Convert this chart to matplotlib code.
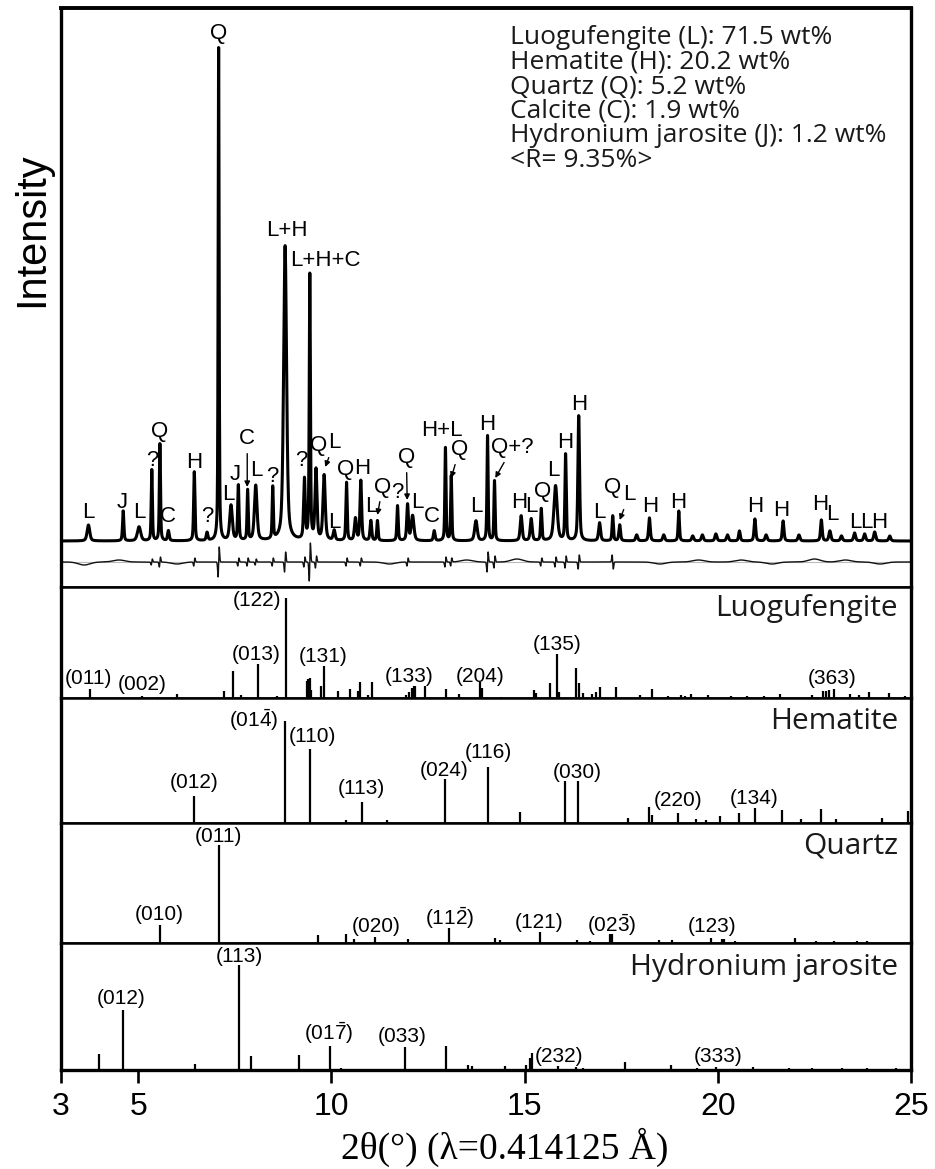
import numpy as np
import matplotlib

matplotlib.use("Agg")
import matplotlib.pyplot as plt

# ---- observed pattern (top panel): peak positions (2theta), heights above background, FWHM
OBS_POS = [3.71, 4.61, 5.02, 5.35, 5.56, 5.78, 6.45, 6.78, 7.08, 7.40, 7.59, 7.83, 8.04, 8.48,
           8.80, 9.30, 9.44, 9.60, 9.81, 10.07, 10.39, 10.62, 10.76, 11.02, 11.19, 11.71, 11.97,
           12.10, 12.66, 12.95, 13.10, 13.74, 14.04, 14.22, 14.91, 15.17, 15.43, 15.80, 16.06,
           16.40, 16.94, 17.28, 17.46, 17.90, 18.23, 18.60, 18.99, 19.35, 19.60, 19.95, 20.25,
           20.56, 20.96, 21.25, 21.69, 22.10, 22.68, 22.90, 23.20, 23.54, 23.80, 24.06, 24.45]
OBS_HEIGHT = [16, 30, 14, 71, 97, 10, 69, 8, 493, 35, 55, 50, 55, 52,
              295, 60, 265, 70, 65, 10, 58, 22, 60, 20, 20, 35, 36,
              25, 10, 93, 65, 20, 105, 60, 25, 22, 32, 55, 86,
              125, 18, 25, 16, 6, 23, 6, 30, 5, 6, 7, 6,
              10, 22, 6, 20, 6, 21, 10, 5, 8, 7, 9, 5]
OBS_FWHM = [0.08, 0.04, 0.10, 0.035, 0.035, 0.05, 0.04, 0.05, 0.03, 0.08, 0.04, 0.035, 0.08, 0.035,
            0.09, 0.05, 0.035, 0.06, 0.07, 0.06, 0.04, 0.06, 0.05, 0.05, 0.04, 0.04, 0.05,
            0.08, 0.05, 0.035, 0.035, 0.08, 0.035, 0.035, 0.06, 0.06, 0.04, 0.10, 0.04,
            0.05, 0.06, 0.04, 0.05, 0.06, 0.05, 0.06, 0.04, 0.06, 0.06, 0.06, 0.06,
            0.05, 0.05, 0.06, 0.05, 0.06, 0.05, 0.06, 0.06, 0.06, 0.06, 0.06, 0.06]
OBS_BACKGROUND = 46

# ---- difference curve: sharp misfit spikes and broad waves
DIFF_LEVEL = 25
DIFF_SPIKE_POS = [5.35, 5.56, 6.45, 7.08, 7.59, 7.83, 8.04, 8.48, 8.80, 9.30, 9.44, 9.60,
                  10.39, 10.76, 11.97, 12.95, 13.10, 14.04, 14.22, 15.43, 15.80, 16.06, 16.40, 17.28]
DIFF_SPIKE_AMP = [3, 5, 4, 15, 4, 4, 3, 4, 10, 5, 19, 6,
                  4, 4, 4, 5, 4, 10, 6, 4, 5, 6, 7, -7]
DIFF_WAVE_POS = [3.6, 4.5, 6.0, 11.5, 13.5, 14.8, 18.5, 19.5, 20.6, 21.4, 22.5, 23.3, 24.2]
DIFF_WAVE_AMP = [-3, 2, -2, -2, 2, 3, -2, 2, 2, -2, 3, 2, -2]

# ---- reference stick patterns
LUO_POS = [3.75, 5.09, 5.50, 6.01, 7.22, 7.46, 7.65, 8.10, 8.60, 8.82, 9.36, 9.40, 9.44, 9.48,
           9.74, 9.80, 10.16, 10.49, 10.69, 10.74, 10.94, 11.04, 11.93, 12.00, 12.08, 12.13,
           12.17, 12.42, 12.97, 13.29, 13.85, 13.90, 14.40, 15.25, 15.29, 15.66, 15.84, 15.90,
           16.33, 16.40, 16.50, 16.75, 16.85, 16.96, 17.37, 17.98, 18.30, 18.70, 19.05, 19.15,
           19.30, 19.75, 20.35, 20.75, 21.20, 21.60, 22.45, 22.72, 22.80, 22.88, 23.01, 23.43,
           23.65, 23.92, 24.43, 24.85]
LUO_INT = [9, 2, 1, 4, 7, 27, 3, 34, 2, 100, 17, 19, 20, 8,
           12, 32, 7, 9, 7, 16, 3, 16, 3, 6, 10, 12,
           12, 12, 9, 4, 16, 10, 1, 8, 5, 15, 44, 6,
           30, 15, 5, 4, 6, 11, 11, 3, 9, 2, 3, 2,
           4, 3, 2, 2, 2, 4, 3, 7, 7, 8, 9, 4,
           3, 6, 5, 2]

HEM_POS = [6.45, 8.80, 9.44, 10.38, 10.78, 11.45, 12.94, 14.06, 14.89, 16.05, 16.39, 17.67,
           18.22, 18.30, 18.97, 19.44, 19.70, 20.05, 20.55, 20.96, 21.67, 22.15, 22.66, 23.05,
           24.24, 24.93]
HEM_INT = [27, 102, 74, 3, 21, 3, 44, 56, 11, 42, 42, 5,
           16, 8, 10, 4, 3, 7, 10, 15, 13, 4, 14, 4,
           5, 12]

QTZ_POS = [5.57, 7.09, 9.64, 10.37, 10.59, 11.13, 11.97, 13.03, 14.22, 14.35, 15.41, 16.36,
           16.70, 17.22, 17.27, 18.49, 18.82, 19.83, 20.11, 20.16, 20.45, 21.99, 22.55, 23.00,
           23.60, 23.85]
QTZ_INT = [18, 98, 8, 9, 4, 6, 4, 15, 5, 3, 11, 3,
           2, 9, 9, 3, 3, 5, 4, 4, 2, 5, 2, 2,
           2, 2]

JAR_POS = [3.98, 4.61, 6.47, 7.61, 7.91, 9.15, 9.96, 10.25, 10.97, 11.90, 12.97, 13.54,
           13.63, 14.48, 15.04, 15.14, 15.19, 15.86, 16.33, 16.50, 17.60, 18.78, 19.45, 19.96,
           20.90, 21.85, 22.45, 23.22, 23.85, 24.62]
JAR_INT = [16, 60, 6, 105, 14, 15, 24, 2, 1, 23, 24, 5,
           4, 4, 5, 12, 17, 4, 3, 2, 8, 5, 2, 3,
           3, 2, 2, 2, 2, 2]

# ---- quantitative phase analysis
PHASE_NAMES = ["Luogufengite (L)", "Hematite (H)", "Quartz (Q)", "Calcite (C)",
               "Hydronium jarosite (J)"]
PHASE_WT = [71.5, 20.2, 5.2, 1.9, 1.2]
R_FACTOR = 9.35

X_TICKS = [3, 5, 10, 15, 20, 25]

# ---- annotations: (text, x, y[, arrow tip x, arrow tip y])
TOP_LABELS = [
    ("L", 3.70, 74), ("J", 4.58, 85), ("L", 5.02, 74), ("?", 5.36, 127), ("Q", 5.56, 155),
    ("C", 5.77, 70), ("H", 6.45, 125), ("?", 6.78, 70), ("Q", 7.08, 553), ("L", 7.33, 92),
    ("J", 7.51, 112), ("C", 7.82, 148, 7.82, 100), ("L", 8.05, 117), ("?", 8.47, 110),
    ("L+H", 8.84, 357), ("?", 9.21, 127), ("L+H+C", 9.84, 327), ("Q", 9.68, 142),
    ("L", 10.07, 144, 9.84, 120), ("L", 10.07, 65), ("Q", 10.36, 117), ("H", 10.80, 118),
    ("L", 11.03, 80), ("Q", 11.32, 100, 11.19, 72), ("?", 11.70, 94),
    ("Q", 11.94, 129, 11.96, 87), ("L", 12.22, 85), ("C", 12.61, 70), ("H+L", 12.87, 157),
    ("Q", 13.31, 137, 13.10, 109), ("L", 13.75, 80), ("H", 14.04, 162),
    ("Q+?", 14.68, 139, 14.24, 109), ("H", 14.85, 85), ("L", 15.17, 80), ("Q", 15.46, 95),
    ("L", 15.75, 117), ("H", 16.06, 145), ("H", 16.42, 183), ("L", 16.94, 75),
    ("Q", 17.27, 100), ("L", 17.71, 92, 17.46, 67), ("H", 18.26, 81), ("H", 18.98, 85),
    ("H", 20.98, 80), ("H", 21.65, 77), ("H", 22.64, 82), ("L", 22.97, 72),
    ("L", 23.55, 64), ("L", 23.85, 64), ("H", 24.18, 64),
]
LUO_LABELS = [("(011)", 3.71, 20), ("(002)", 5.09, 13), ("(013)", 8.05, 43), ("(122)", 8.07, 98),
              ("(131)", 9.79, 41), ("(133)", 12.02, 22), ("(204)", 13.85, 22),
              ("(135)", 15.85, 53), ("(363)", 22.97, 19)]
HEM_LABELS = [("(012)", 6.45, 40), (r"(01$\bar{4}$)", 8.00, 103), ("(110)", 9.50, 86),
              ("(113)", 10.77, 34), ("(024)", 12.92, 53), ("(116)", 14.06, 71),
              ("(030)", 16.37, 51), ("(220)", 18.98, 22), ("(134)", 20.95, 24)]
QTZ_LABELS = [("(011)", 7.07, 106), ("(010)", 5.54, 28), ("(020)", 11.16, 16),
              (r"(11$\bar{2}$)", 13.05, 25), ("(121)", 15.38, 20), (r"(02$\bar{3}$)", 17.25, 18),
              ("(123)", 19.84, 16)]
JAR_LABELS = [("(113)", 7.61, 113), ("(012)", 4.55, 72), (r"(01$\bar{7}$)", 9.92, 37),
              ("(033)", 11.83, 33), ("(232)", 15.90, 14), ("(333)", 20.00, 14)]


def pseudo_voigt(x, pos, height, fwhm, eta=0.5):
    d = (x[:, None] - np.asarray(pos)) / np.asarray(fwhm)
    g = np.exp(-4 * np.log(2) * d ** 2)
    lor = 1 / (1 + 4 * d ** 2)
    return ((eta * lor + (1 - eta) * g) * np.asarray(height)).sum(axis=1)


def misfit(x, pos, amp, sigma):
    d = (x[:, None] - np.asarray(pos)) / sigma
    return (np.asarray(amp) * d * np.exp(0.5 - d ** 2 / 2)).sum(axis=1)


def waves(x, pos, amp, sigma):
    d = (x[:, None] - np.asarray(pos)) / sigma
    return (np.asarray(amp) * np.exp(-d ** 2 / 2)).sum(axis=1)


def main():
    plt.rcParams.update({
        "font.family": ["Liberation Sans", "DejaVu Sans"],
        "mathtext.fontset": "custom",
        "mathtext.rm": "Liberation Sans",
        "mathtext.it": "Liberation Sans",
        "mathtext.bf": "Liberation Sans:bold",
    })

    W, H = 935, 1169
    fig = plt.figure(figsize=(W / 100, H / 100), dpi=100)
    left, right = 61 / W, 911 / W
    edges = [8, 587, 698, 823, 943, 1070]  # panel edges in pixels from top
    axes = []
    for top, bot in zip(edges[:-1], edges[1:]):
        ax = fig.add_axes([left, 1 - bot / H, right - left, (bot - top) / H])
        ax.set_xlim(3, 25)
        ax.set_ylim(0, bot - top)
        ax.tick_params(left=False, labelleft=False, bottom=False, labelbottom=False)
        for s in ax.spines.values():
            s.set_linewidth(1.8)
        ax.spines["left"].set_linewidth(2.4)
        ax.spines["right"].set_linewidth(2.4)
        axes.append(ax)
    ax_obs, ax_luo, ax_hem, ax_qtz, ax_jar = axes
    ax_obs.spines["top"].set_linewidth(2.8)
    ax_jar.spines["bottom"].set_linewidth(2.4)

    # observed + difference
    x = np.linspace(3, 25, 9000)
    y_obs = OBS_BACKGROUND + pseudo_voigt(x, OBS_POS, OBS_HEIGHT, OBS_FWHM)
    y_diff = (DIFF_LEVEL + misfit(x, DIFF_SPIKE_POS, DIFF_SPIKE_AMP, 0.015)
              + waves(x, DIFF_WAVE_POS, DIFF_WAVE_AMP, 0.15))
    ax_obs.axhline(DIFF_LEVEL, color="#bbbbbb", lw=0.8, zorder=1)
    ax_obs.plot(x, y_diff, color="#111111", lw=1.0, zorder=2)
    ax_obs.plot(x, y_obs, color="black", lw=2.2, zorder=3, solid_joinstyle="round")

    for lab in TOP_LABELS:
        if len(lab) == 5:
            ax_obs.annotate(lab[0], xy=(lab[3], lab[4]), xytext=(lab[1], lab[2]),
                            ha="center", va="center", fontsize=16,
                            arrowprops=dict(arrowstyle="-|>", color="black", lw=1.0,
                                            mutation_scale=8, shrinkA=1, shrinkB=0))
        else:
            ax_obs.text(lab[1], lab[2], lab[0], ha="center", va="center", fontsize=16)

    # phase fractions, one multi-line block (baseline = last line)
    lines = [f"{n}: {w} wt%" for n, w in zip(PHASE_NAMES, PHASE_WT)]
    lines.append(f"<R= {R_FACTOR}%>")
    fig.text(510 / W, 1 - 167 / H, "\n".join(lines), ha="left", va="baseline",
             fontsize=19, family="Open Sans", color="#1a1a1a", linespacing=0.98)

    # reference sticks
    panels = [
        (ax_luo, LUO_POS, LUO_INT, LUO_LABELS, "Luogufengite"),
        (ax_hem, HEM_POS, HEM_INT, HEM_LABELS, "Hematite"),
        (ax_qtz, QTZ_POS, QTZ_INT, QTZ_LABELS, "Quartz"),
        (ax_jar, JAR_POS, JAR_INT, JAR_LABELS, "Hydronium jarosite"),
    ]
    for ax, pos, inten, labels, name in panels:
        ax.vlines(pos, 0, inten, color="black", lw=1.6)
        for txt, lx, ly in labels:
            ax.text(lx, ly, txt, ha="center", va="center", fontsize=15)
        ax.text(0.985, 0.81, name, transform=ax.transAxes, ha="right", va="center",
                fontsize=21.5, family="Open Sans", color="#1a1a1a")

    ax_jar.set_xticks(X_TICKS)
    ax_jar.tick_params(bottom=True, labelbottom=True, direction="out", length=9.5,
                       width=1.9, labelsize=23, pad=6)

    fig.text(505 / W, 1 - 1147 / H, "2\u03b8(\u00b0) (\u03bb=0.414125 \u00c5)",
             ha="center", va="center", fontsize=27, family="Liberation Serif")
    fig.text(32 / W, 1 - 230 / H, "Intensity", rotation=90, ha="center", va="center",
             fontsize=30)

    fig.savefig("out.png", dpi=100)
    plt.close(fig)


if __name__ == "__main__":
    main()
